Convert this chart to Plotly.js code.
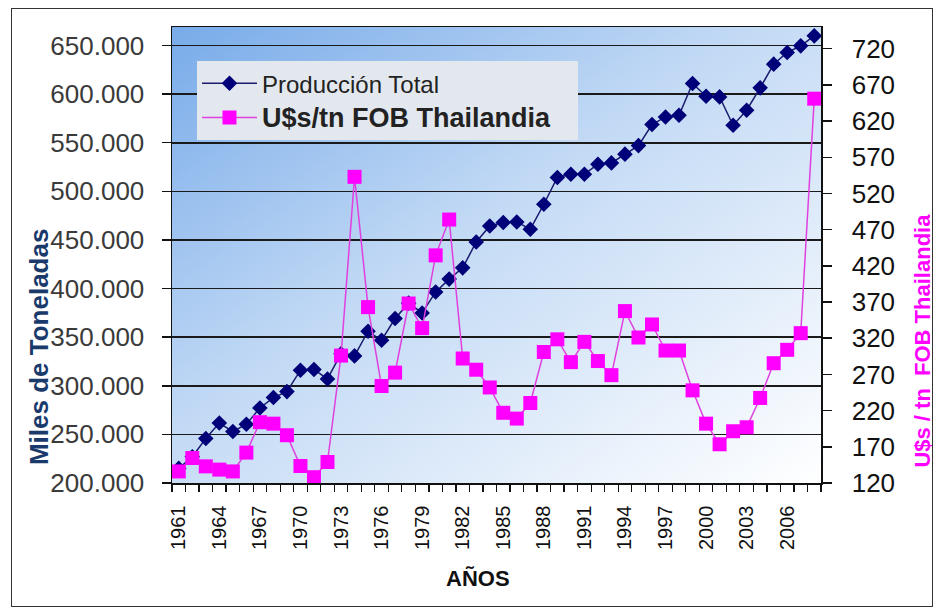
<!DOCTYPE html>
<html>
<head>
<meta charset="utf-8">
<script src="https://cdn.plot.ly/plotly-3.0.1.min.js"></script>
<style>
  html, body { margin: 0; padding: 0; background: #ffffff; }
  #wrap { position: relative; width: 939px; height: 616px; }
  #chart { position: absolute; left: 0; top: 0; width: 939px; height: 616px; }
  #frame { position: absolute; left: 11px; top: 8px; width: 922px; height: 599px;
           border: 1.5px solid #333; pointer-events: none; box-sizing: border-box; }
</style>
</head>
<body>
<div id="wrap">
  <div id="chart"></div>
  <div id="frame"></div>
</div>
<script>
const years = [1961,1962,1963,1964,1965,1966,1967,1968,1969,1970,
  1971,1972,1973,1974,1975,1976,1977,1978,1979,1980,
  1981,1982,1983,1984,1985,1986,1987,1988,1989,1990,
  1991,1992,1993,1994,1995,1996,1997,1998,1999,2000,
  2001,2002,2003,2004,2005,2006,2007,2008];

const produccionTotal = [215000,227000,245700,261700,252900,260400,277200,287900,294000,316000,
  316700,307000,333000,330700,356100,346800,369200,385000,374900,396500,
  409700,421300,447900,464400,467900,468500,461000,486700,514200,517600,
  517600,527900,529200,538200,547000,568700,576500,578300,610900,597800,
  597100,568000,583400,606400,630800,642800,649600,659900];

const precioFOB = [136,154.5,143,138.5,136,162,204,202,186,143.5,
  128,149,296,543,363,254,272.5,368,334,434.5,
  484,292,276.5,252,217,209,230.5,301,318.5,287,
  315,288.5,269,357.5,321,339,303,303,248,202,
  173.5,191.5,197,237.5,285.5,304,327,651];

const yearTickVals = [1961,1964,1967,1970,1973,1976,1979,1982,1985,1988,1991,1994,1997,2000,2003,2006];
const yearTickText = ["1961","1964","1967","1970","1973","1976","1979","1982","1985","1988","1991","1994","1997","2000","2003","2006"];

const FONT = "Liberation Sans, Arial, sans-serif";

const gradSvg = '<svg xmlns="http://www.w3.org/2000/svg" width="100" height="100" preserveAspectRatio="none" viewBox="0 0 100 100">' +
  '<defs><linearGradient id="g" x1="0" y1="0" x2="1" y2="1">' +
  '<stop offset="0" stop-color="#78abe9"/>' +
  '<stop offset="0.45" stop-color="#c3daf5"/>' +
  '<stop offset="1" stop-color="#ffffff"/>' +
  '</linearGradient></defs><rect x="0" y="0" width="100" height="100" fill="url(#g)"/></svg>';

const pad = '&nbsp;'.repeat(20);

const traces = [
  {
    x: years, y: produccionTotal, type: 'scatter', mode: 'lines+markers',
    name: 'Producción Total' + pad,
    line: { color: '#1a1a6e', width: 1.5 },
    marker: { symbol: 'diamond', size: 12, color: '#000078' },
    yaxis: 'y'
  },
  {
    x: years, y: precioFOB, type: 'scatter', mode: 'lines+markers',
    name: '<span style="font-size:27px;font-weight:bold">U$s/tn FOB Thailandia</span>',
    line: { color: '#e040e0', width: 1.5 },
    marker: { symbol: 'square', size: 14, color: '#ff00ff' },
    yaxis: 'y2'
  }
];

const layout = {
  width: 939, height: 616,
  margin: { l: 172, r: 118, t: 27, b: 133 },
  paper_bgcolor: '#ffffff',
  plot_bgcolor: 'rgba(0,0,0,0)',
  separators: ',.',
  font: { family: FONT, color: '#222' },
  showlegend: true,
  legend: {
    x: 0.0385, y: 0.925, xanchor: 'left', yanchor: 'top',
    bgcolor: '#e3e8ef', borderwidth: 0,
    font: { family: FONT, size: 24, color: '#222' },
    itemwidth: 55,
    tracegroupgap: 0
  },
  images: [{
    source: 'data:image/svg+xml;charset=utf-8,' + encodeURIComponent(gradSvg),
    xref: 'paper', yref: 'paper', x: 0, y: 1, sizex: 1, sizey: 1,
    sizing: 'stretch', xanchor: 'left', yanchor: 'top', layer: 'below'
  }],
  annotations: [
    { text: '<b>Miles de Toneladas</b>', xref: 'paper', yref: 'paper', x: -0.205, y: 0.298,
      xanchor: 'center', yanchor: 'middle', textangle: -90, showarrow: false,
      font: { family: FONT, size: 26, color: '#1a3a6b' } },
    { text: '<b>U$s / tn&nbsp;&nbsp;FOB Thailandia</b>', xref: 'paper', yref: 'paper', x: 1.157, y: 0.312,
      xanchor: 'center', yanchor: 'middle', textangle: -90, showarrow: false,
      font: { family: FONT, size: 22, color: '#ff00ff' } },
    { text: '<b>AÑOS</b>', xref: 'paper', yref: 'paper', x: 0.4715, y: -0.2105,
      xanchor: 'center', yanchor: 'middle', showarrow: false,
      font: { family: FONT, size: 22, color: '#111' } }
  ],
  xaxis: {
    range: [1960.5, 2008.5],
    tickmode: 'array', tickvals: yearTickVals, ticktext: yearTickText,
    tickangle: -90, ticks: '',
    tickfont: { family: FONT, size: 20, color: '#111' },
    ticklabelstandoff: 13,
    showgrid: false, zeroline: false,
    showline: true, linecolor: '#111', linewidth: 1.5, mirror: true,
    minor: { tickmode: 'linear', tick0: 1960.5, dtick: 1, ticks: 'outside',
             ticklen: 7, tickwidth: 1.2, tickcolor: '#111', showgrid: false }
  },
  yaxis: {
    range: [200000, 669000],
    tickmode: 'linear', tick0: 200000, dtick: 50000,
    tickformat: ',d',
    tickfont: { family: FONT, size: 26, color: '#3a3a3a' },
    ticks: 'outside', ticklen: 9, tickwidth: 1.5, tickcolor: '#111',
    ticklabelstandoff: 12,
    showgrid: true, gridcolor: '#1a1a1a', gridwidth: 1.6,
    zeroline: false,
    showline: true, linecolor: '#111', linewidth: 1.5
  },
  yaxis2: {
    overlaying: 'y', side: 'right', anchor: 'x',
    range: [120, 750],
    tickmode: 'linear', tick0: 120, dtick: 50,
    tickfont: { family: FONT, size: 26, color: '#111' },
    ticks: 'outside', ticklen: 9, tickwidth: 1.5, tickcolor: '#111',
    ticklabelstandoff: 15,
    showgrid: false, zeroline: false,
    showline: true, linecolor: '#111', linewidth: 1.5
  },
  yaxis3: {
    overlaying: 'y', side: 'right', anchor: 'x',
    range: [120, 750],
    tickmode: 'linear', tick0: 120, dtick: 50,
    ticks: 'inside', ticklen: 7, tickwidth: 1.5, tickcolor: '#111',
    showticklabels: false, showgrid: false, zeroline: false, showline: false
  }
};

Plotly.newPlot('chart', traces, layout, { displayModeBar: false, staticPlot: true });
</script>
</body>
</html>
